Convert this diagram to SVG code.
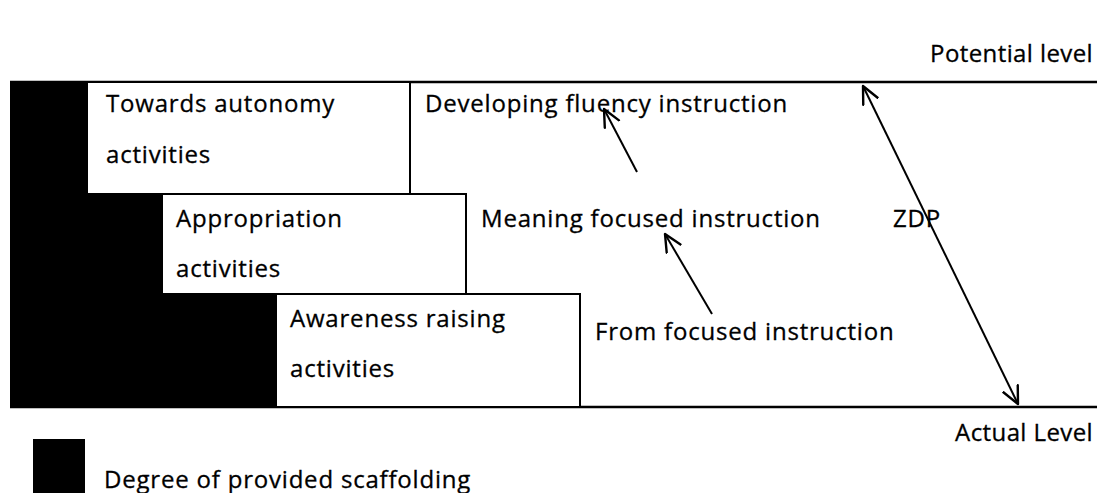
<svg xmlns="http://www.w3.org/2000/svg" width="1097" height="493" viewBox="0 0 1097 493">
<defs>
<marker id="arr" markerUnits="userSpaceOnUse" markerWidth="26" markerHeight="26" refX="18" refY="9" orient="auto-start-reverse" viewBox="0 0 26 18">
<path d="M1,1 L18,9 L1,17" fill="none" stroke="#000" stroke-width="2.4" stroke-linecap="round" stroke-linejoin="round"/>
</marker>
<style>
text{font-family:"Open Sans","Noto Sans","Liberation Sans",sans-serif;font-size:24px;letter-spacing:0.8px;fill:#000;stroke:#000;stroke-width:0.3px;}
.end{text-anchor:end;letter-spacing:0.4px;}
.box{fill:#fff;stroke:#000;stroke-width:2;}
.ln{stroke:#000;stroke-width:2.5;fill:none;}
.conn{stroke:#000;stroke-width:2;fill:none;}
</style>
</defs>
<g id="frame">
<line class="ln" x1="10" y1="82" x2="1097" y2="82"/>
<line class="ln" x1="10" y1="407" x2="1097" y2="407"/>
<polygon points="10,82 87,82 87,194 162,194 162,294 276,294 276,407 10,407" fill="#000"/>
</g>
<g id="towards">
<rect class="box" x="87" y="82" width="323" height="112"/>
<text x="106" y="112">Towards autonomy</text>
<text x="106" y="163">activities</text>
</g>
<g id="appropriation">
<rect class="box" x="162" y="194" width="304" height="100"/>
<text x="176" y="227">Appropriation</text>
<text x="176" y="277">activities</text>
</g>
<g id="awareness">
<rect class="box" x="276" y="294" width="304" height="113"/>
<text x="290" y="327">Awareness raising</text>
<text x="290" y="377">activities</text>
</g>
<g id="fluency"><text x="425" y="112">Developing fluency instruction</text></g>
<g id="meaning"><text x="481" y="227">Meaning focused instruction</text></g>
<g id="from"><text x="595" y="340">From focused instruction</text></g>
<g id="zdp"><text x="893" y="227">ZDP</text></g>
<g id="potential"><text class="end" x="1093" y="62">Potential level</text></g>
<g id="actual"><text class="end" x="1093" y="441">Actual Level</text></g>
<g id="legend">
<rect x="33" y="439" width="52" height="54" fill="#000"/>
<text x="104" y="488">Degree of provided scaffolding</text>
</g>
<g id="connectors">
<line class="conn" x1="637" y1="172" x2="604" y2="109" marker-end="url(#arr)"/>
<line class="conn" x1="712" y1="314" x2="665" y2="234" marker-end="url(#arr)"/>
<line class="conn" x1="863" y1="86" x2="1018" y2="404" marker-start="url(#arr)" marker-end="url(#arr)"/>
</g>
</svg>
